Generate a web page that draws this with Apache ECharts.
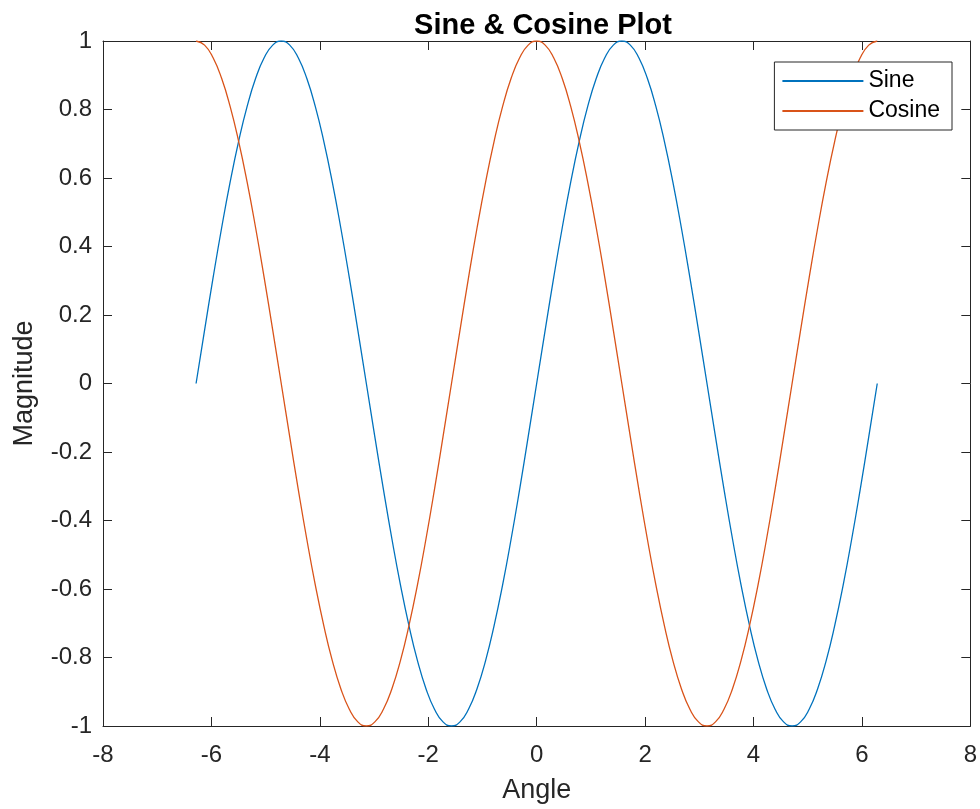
<!DOCTYPE html>
<html>
<head>
<meta charset="utf-8">
<script src="https://cdn.jsdelivr.net/npm/echarts@6/dist/echarts.min.js"></script>
<style>
  html, body { margin: 0; padding: 0; background: #fff; }
  #chart { width: 980px; height: 809px; }
</style>
</head>
<body>
<div id="chart"></div>
<script>
// Sampled angles from -2π to 2π (step π/20)
const angle = [
  -6.283, -6.126, -5.969, -5.812, -5.655, -5.498, -5.341, -5.184, -5.027, -4.869,
  -4.712, -4.555, -4.398, -4.241, -4.084, -3.927, -3.770, -3.613, -3.456, -3.299,
  -3.142, -2.985, -2.827, -2.670, -2.513, -2.356, -2.199, -2.042, -1.885, -1.728,
  -1.571, -1.414, -1.257, -1.100, -0.942, -0.785, -0.628, -0.471, -0.314, -0.157,
  0,
  0.157, 0.314, 0.471, 0.628, 0.785, 0.942, 1.100, 1.257, 1.414, 1.571,
  1.728, 1.885, 2.042, 2.199, 2.356, 2.513, 2.670, 2.827, 2.985, 3.142,
  3.299, 3.456, 3.613, 3.770, 3.927, 4.084, 4.241, 4.398, 4.555, 4.712,
  4.869, 5.027, 5.184, 5.341, 5.498, 5.655, 5.812, 5.969, 6.126, 6.283
];

const sine = [
  0, 0.156, 0.309, 0.454, 0.588, 0.707, 0.809, 0.891, 0.951, 0.988,
  1, 0.988, 0.951, 0.891, 0.809, 0.707, 0.588, 0.454, 0.309, 0.156,
  0, -0.156, -0.309, -0.454, -0.588, -0.707, -0.809, -0.891, -0.951, -0.988,
  -1, -0.988, -0.951, -0.891, -0.809, -0.707, -0.588, -0.454, -0.309, -0.156,
  0,
  0.156, 0.309, 0.454, 0.588, 0.707, 0.809, 0.891, 0.951, 0.988, 1,
  0.988, 0.951, 0.891, 0.809, 0.707, 0.588, 0.454, 0.309, 0.156, 0,
  -0.156, -0.309, -0.454, -0.588, -0.707, -0.809, -0.891, -0.951, -0.988, -1,
  -0.988, -0.951, -0.891, -0.809, -0.707, -0.588, -0.454, -0.309, -0.156, 0
];

const cosine = [
  1, 0.988, 0.951, 0.891, 0.809, 0.707, 0.588, 0.454, 0.309, 0.156,
  0, -0.156, -0.309, -0.454, -0.588, -0.707, -0.809, -0.891, -0.951, -0.988,
  -1, -0.988, -0.951, -0.891, -0.809, -0.707, -0.588, -0.454, -0.309, -0.156,
  0, 0.156, 0.309, 0.454, 0.588, 0.707, 0.809, 0.891, 0.951, 0.988,
  1,
  0.988, 0.951, 0.891, 0.809, 0.707, 0.588, 0.454, 0.309, 0.156, 0,
  -0.156, -0.309, -0.454, -0.588, -0.707, -0.809, -0.891, -0.951, -0.988, -1,
  -0.988, -0.951, -0.891, -0.809, -0.707, -0.588, -0.454, -0.309, -0.156, 0,
  0.156, 0.309, 0.454, 0.588, 0.707, 0.809, 0.891, 0.951, 0.988, 1
];

const seriesNames = ['Sine', 'Cosine'];
const seriesColors = ['#0072BD', '#D95319'];

const FONT = 'Liberation Sans, Arial, Helvetica, sans-serif';
const AXIS_COLOR = '#262626';

function pairs(xs, ys) {
  return xs.map((x, i) => [x, ys[i]]);
}

function fmtTick(v) {
  return String(+v.toFixed(1));
}

const tickStyle = { show: true, inside: true, length: 9, lineStyle: { color: AXIS_COLOR, width: 1 } };
const lineStyle = { show: true, onZero: false, lineStyle: { color: AXIS_COLOR, width: 1 } };

const chart = echarts.init(document.getElementById('chart'), null, { renderer: 'canvas' });

chart.setOption({
  backgroundColor: '#ffffff',
  animation: false,
  title: {
    text: 'Sine & Cosine Plot',
    left: 538,
    textAlign: 'center',
    top: 6,
    textStyle: { fontFamily: FONT, fontSize: 29, fontWeight: 'bold', color: '#000' }
  },
  legend: {
    data: seriesNames,
    orient: 'vertical',
    right: 28,
    top: 62,
    padding: [7, 12, 7, 8],
    itemGap: 6,
    itemWidth: 81,
    itemHeight: 2,
    icon: 'rect',
    backgroundColor: '#fff',
    borderColor: AXIS_COLOR,
    borderWidth: 1,
    borderRadius: 0,
    textStyle: { fontFamily: FONT, fontSize: 23, color: '#000', lineHeight: 24 }
  },
  grid: { left: 103, right: 7, top: 41, bottom: 83, containLabel: false },
  xAxis: [
    {
      type: 'value', min: -8, max: 8, interval: 2,
      name: 'Angle', nameLocation: 'middle', nameGap: 51,
      nameTextStyle: { fontFamily: FONT, fontSize: 27, color: AXIS_COLOR },
      axisLine: lineStyle, axisTick: tickStyle, splitLine: { show: false },
      axisLabel: { fontFamily: FONT, fontSize: 24, color: AXIS_COLOR, margin: 17, formatter: fmtTick }
    },
    {
      type: 'value', min: -8, max: 8, interval: 2, position: 'top',
      axisLine: lineStyle, axisTick: tickStyle, splitLine: { show: false },
      axisLabel: { show: false }
    }
  ],
  yAxis: [
    {
      type: 'value', min: -1, max: 1, interval: 0.2,
      name: 'Magnitude', nameLocation: 'middle', nameGap: 65, nameRotate: 90,
      nameTextStyle: { fontFamily: FONT, fontSize: 27, color: AXIS_COLOR },
      axisLine: lineStyle, axisTick: tickStyle, splitLine: { show: false },
      axisLabel: { fontFamily: FONT, fontSize: 24, color: AXIS_COLOR, margin: 11, formatter: fmtTick }
    },
    {
      type: 'value', min: -1, max: 1, interval: 0.2, position: 'right',
      axisLine: lineStyle, axisTick: tickStyle, splitLine: { show: false },
      axisLabel: { show: false }
    }
  ],
  series: [
    {
      name: seriesNames[0], type: 'line', data: pairs(angle, sine),
      showSymbol: false, symbol: 'none', smooth: true,
      color: seriesColors[0],
      lineStyle: { color: seriesColors[0], width: 1.3 }
    },
    {
      name: seriesNames[1], type: 'line', data: pairs(angle, cosine),
      showSymbol: false, symbol: 'none', smooth: true,
      color: seriesColors[1],
      lineStyle: { color: seriesColors[1], width: 1.3 }
    }
  ]
});
</script>
</body>
</html>
